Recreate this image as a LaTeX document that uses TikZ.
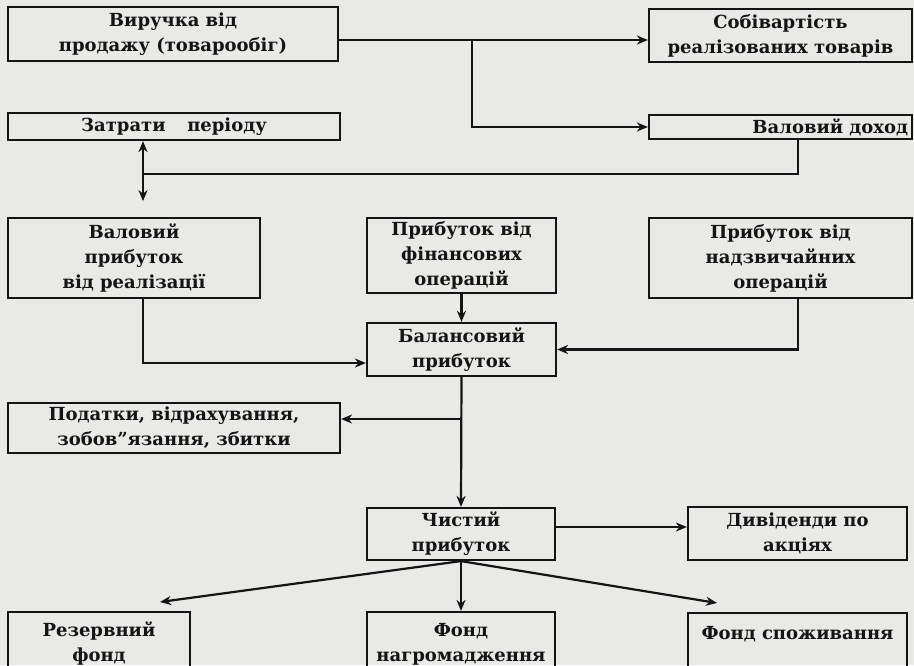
\documentclass[tikz,border=0pt]{standalone}
\usepackage{fontspec}
\setmainfont{DejaVu Serif}
\usetikzlibrary{arrows.meta,calc}
\definecolor{paper}{RGB}{233,233,231}
\definecolor{ink}{RGB}{20,20,20}
\tikzset{
  box/.style={draw=ink, line width=2.2pt, inner sep=1pt, align=center,
    font=\fontsize{18}{25}\selectfont\bfseries, text=ink},
  arr/.style={draw=ink, line width=2.2pt, -{Stealth[length=11pt,width=9pt]}},
  arrb/.style={draw=ink, line width=2.2pt, {Stealth[length=11pt,width=9pt]}-{Stealth[length=11pt,width=9pt]}},
  ln/.style={draw=ink, line width=2.2pt},
}
\begin{document}
\begin{tikzpicture}[x=1pt,y=-1pt]
\useasboundingbox (0,0) rectangle (914,665);
\clip (0,0) rectangle (914,665);
\fill[paper] (0,0) rectangle (914,665);

% boxes
\node[box, minimum width=330, minimum height=54] (vyr) at (173,34) {Виручка від\\продажу (товарообіг)};
\node[box, minimum width=263, minimum height=53] (sob) at (780.5,35.5) {Собівартість\\реалізованих товарів};
\node[box, minimum width=332, minimum height=27] (zat) at (174,126.5) {Затрати\hspace{1.2em}періоду};
\node[box, minimum width=263, minimum height=24, text width=255, align=right] (vdokh) at (780.5,127) {Валовий доход};
\node[box, minimum width=252, minimum height=80] (vprib) at (134,258) {Валовий\\прибуток\\від реалізації};
\node[box, minimum width=189, minimum height=75] (fin) at (461.5,255.5) {Прибуток від\\фінансових\\операцій};
\node[box, minimum width=263, minimum height=80] (nadz) at (780.5,258) {Прибуток від\\надзвичайних\\операцій};
\node[box, minimum width=189, minimum height=53] (bal) at (461.5,349.5) {Балансовий\\прибуток};
\node[box, minimum width=332, minimum height=50] (pod) at (174,428) {Податки, відрахування,\\зобов”язання, збитки};
\node[box, minimum width=188, minimum height=52] (chyst) at (461,534) {Чистий\\прибуток};
\node[box, minimum width=219, minimum height=53] (dyv) at (797.5,533.5) {Дивіденди по\\акціях};
\node[box, minimum width=182, minimum height=64] (rez) at (99,644) {Резервний\\фонд};
\node[box, minimum width=188, minimum height=64] (nagr) at (461,644) {Фонд\\нагромадження};
\node[box, minimum width=219, minimum height=64] (spozh) at (797.5,645) {Фонд споживання\\\mbox{}};

% helper coordinates
\coordinate (colL) at (143,0);
\coordinate (colR) at (798,0);
\coordinate (br) at (472,40);
\coordinate (h1) at (143,174);
\coordinate (h2) at (0,363);
\coordinate (h4) at (0,419);
\coordinate (e1) at (160,602);
\coordinate (e2) at (717,603);

% connectors
\draw[arr] (vyr.east |- br) -- (sob.west |- br);
\draw[arr] (br) |- (vdokh.west);
\draw[arrb] (zat.south -| colL) -- ++(0,60);
\draw[ln] (vdokh.south -| colR) |- (h1);
\draw[arr] (vprib.south -| colL) |- (bal.west |- h2);
\draw[arr] (fin.south) -- (bal.north);
\draw[arr] (nadz.south -| colR) |- (bal.east);
\draw[arr] (bal.south) -- (chyst.north);
\draw[arr] (bal.south |- h4) -- (pod.east |- h4);
\draw[arr] ([yshift=7pt]chyst.east) -- ([yshift=7pt]chyst.east -| dyv.west);
\draw[arr] (chyst.south) -- (nagr.north);
\draw[arr] (chyst.south) -- (e1);
\draw[arr] (chyst.south) -- (e2);
\end{tikzpicture}
\end{document}
